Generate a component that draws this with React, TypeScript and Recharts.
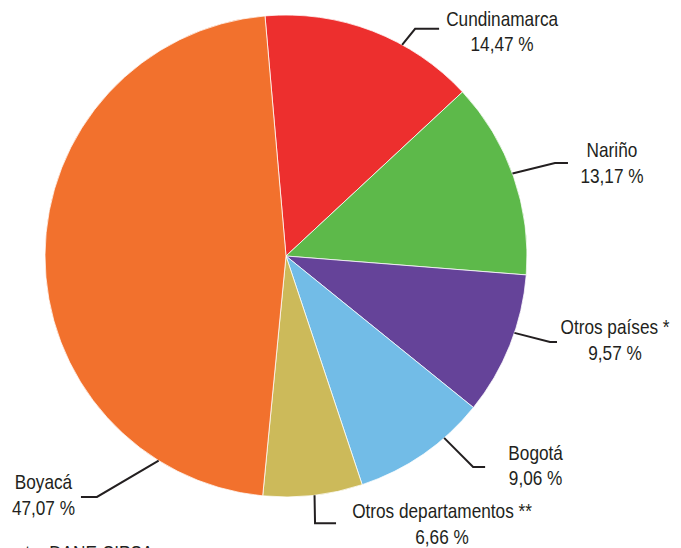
import React from "react";
import { PieChart, Pie, Cell } from "recharts";

const categories = ["Cundinamarca", "Nariño", "Otros países *", "Bogotá", "Otros departamentos **", "Boyacá"];
const shares = [14.47, 13.17, 9.57, 9.06, 6.66, 47.07];
const sourceNote = "Fuente: DANE-SIPSA";

const colors = ["#ED2F2E", "#5DB94A", "#654399", "#72BCE7", "#CCBA5A", "#F2712D"];

// label layout: rim angle (deg), elbow offset from rim, horizontal run, text offsets
const labelLayout: Record<string, { a: number; ex: number; ey: number; run: number; tx: number; b1: number; b2: number }> = {
  "Cundinamarca": { a: 61.2, ex: 13, ey: -16, run: 24, tx: 63, b1: -3, b2: 22 },
  "Nariño": { a: 20, ex: 42.5, ey: -10.6, run: 13, tx: 44, b1: -6, b2: 20 },
  "Otros países *": { a: -18.6, ex: 35.6, ey: 9.1, run: 7, tx: 58, b1: -8, b2: 18.5 },
  "Bogotá": { a: -49, ex: 29, ey: 29, run: 12, tx: 50.5, b1: -7, b2: 18 },
  "Otros departamentos **": { a: -83.2, ex: 0.5, ey: 28, run: 21, tx: 106, b1: -5, b2: 21 },
  "Boyacá": { a: -121.9, ex: -61.7, ey: 36.3, run: -16, tx: -37.5, b1: -8, b2: 18 },
};

const data = categories.map((name, i) => ({ name, value: shares[i] }));

const FONT = "'Liberation Sans', Arial, sans-serif";
const INK = "#231f20";
const SQUEEZE = 0.82;

const NarrowText = ({ x, y, anchor, children }: { x: number; y: number; anchor: "start" | "middle" | "end"; children: React.ReactNode }) => (
  <text
    x={0}
    y={0}
    transform={`translate(${x},${y}) scale(${SQUEEZE},1)`}
    textAnchor={anchor}
    fontFamily={FONT}
    fontSize={21}
    fill={INK}
  >
    {children}
  </text>
);

const renderLabel = (props: any) => {
  const { cx, cy, outerRadius, name, value } = props;
  const L = labelLayout[name];
  if (!L) return null;
  const rad = (L.a * Math.PI) / 180;
  const x0 = cx + outerRadius * Math.cos(rad);
  const y0 = cy - outerRadius * Math.sin(rad);
  const x1 = x0 + L.ex;
  const y1 = y0 + L.ey;
  const x2 = x1 + L.run;
  const y2 = y1;
  const tx = x2 + L.tx;
  const pct = value.toFixed(2).replace(".", ",") + " %";
  return (
    <g>
      <polyline points={`${x0},${y0} ${x1},${y1} ${x2},${y2}`} fill="none" stroke={INK} strokeWidth={2} />
      <NarrowText x={tx} y={y2 + L.b1} anchor="middle">{name}</NarrowText>
      <NarrowText x={tx} y={y2 + L.b2} anchor="middle">{pct}</NarrowText>
    </g>
  );
};

export default function App() {
  return (
    <div style={{ position: "fixed", left: 0, top: 0, width: 681, height: 548, overflow: "hidden", background: "#fff" }}>
      <PieChart width={681} height={570} margin={{ top: 0, right: 0, bottom: 0, left: 0 }}>
        <Pie
          data={data}
          dataKey="value"
          nameKey="name"
          cx={286}
          cy={256}
          outerRadius={241}
          startAngle={95}
          endAngle={-265}
          stroke="#ffffff"
          strokeWidth={0.75}
          labelLine={false}
          label={renderLabel}
          isAnimationActive={false}
        >
          {data.map((d, i) => (
            <Cell key={d.name} fill={colors[i]} />
          ))}
        </Pie>
        <NarrowText x={-14} y={560} anchor="start">{sourceNote}</NarrowText>
      </PieChart>
    </div>
  );
}
